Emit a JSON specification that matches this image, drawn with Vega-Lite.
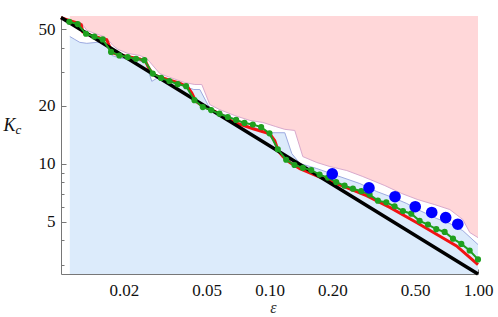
{
  "$schema": "https://vega.github.io/schema/vega-lite/v6.json",
  "width": 417,
  "height": 258,
  "autosize": {"type": "none"},
  "padding": {"left": 61, "top": 16, "right": 20, "bottom": 43},
  "background": "white",
  "config": {"view": {"stroke": null}, "font": "Times New Roman, Liberation Serif, serif", "axis": {"grid": false}},
  "datasets": {
    "pink": [
      {"e": 0.01102, "k": 55.1}, {"e": 0.01204, "k": 54.2}, {"e": 0.01258, "k": 53.6}, {"e": 0.0133, "k": 49.3},
      {"e": 0.01452, "k": 47.5}, {"e": 0.01604, "k": 45.8}, {"e": 0.01677, "k": 44.2}, {"e": 0.01772, "k": 41.2},
      {"e": 0.01873, "k": 39.3}, {"e": 0.02091, "k": 37.4}, {"e": 0.02388, "k": 36.5}, {"e": 0.0258, "k": 35.2},
      {"e": 0.02977, "k": 29.4}, {"e": 0.03325, "k": 28.1}, {"e": 0.03925, "k": 26.4}, {"e": 0.04384, "k": 25.8},
      {"e": 0.04735, "k": 25.8}, {"e": 0.05173, "k": 20.3}, {"e": 0.05775, "k": 19.1}, {"e": 0.06817, "k": 17.8},
      {"e": 0.08043, "k": 16.8}, {"e": 0.09288, "k": 16.4}, {"e": 0.1072, "k": 15.6}, {"e": 0.1184, "k": 15.1},
      {"e": 0.1322, "k": 14.9}, {"e": 0.1445, "k": 10.9}, {"e": 0.1686, "k": 10.16}, {"e": 0.1947, "k": 9.68},
      {"e": 0.2348, "k": 9.23}, {"e": 0.2802, "k": 8.59}, {"e": 0.3573, "k": 7.71}, {"e": 0.431, "k": 7.01},
      {"e": 0.5144, "k": 6.52}, {"e": 0.6205, "k": 6.14}, {"e": 0.7325, "k": 5.79}, {"e": 0.8455, "k": 5.14},
      {"e": 0.9135, "k": 4.4}, {"e": 1.0, "k": 4.14}
    ],
    "sky": [
      {"e": 0.01102, "k": 45.8}, {"e": 0.01165, "k": 44.2}, {"e": 0.01231, "k": 42.7}, {"e": 0.0133, "k": 42.2},
      {"e": 0.01485, "k": 42.7}, {"e": 0.01569, "k": 42.7}, {"e": 0.01658, "k": 41.2}, {"e": 0.01753, "k": 36.5},
      {"e": 0.01914, "k": 35.4}, {"e": 0.02091, "k": 35.0}, {"e": 0.02309, "k": 34.6}, {"e": 0.02551, "k": 33.4},
      {"e": 0.02726, "k": 26.8}, {"e": 0.02977, "k": 28.4}, {"e": 0.03325, "k": 27.1}, {"e": 0.03714, "k": 25.8},
      {"e": 0.04057, "k": 24.9}, {"e": 0.04335, "k": 24.3}, {"e": 0.04632, "k": 24.3}, {"e": 0.05059, "k": 20.3},
      {"e": 0.05347, "k": 18.9}, {"e": 0.06451, "k": 17.6}, {"e": 0.08043, "k": 15.6}, {"e": 0.09186, "k": 15.1},
      {"e": 0.1003, "k": 14.5}, {"e": 0.1184, "k": 14.5}, {"e": 0.1279, "k": 11.3}, {"e": 0.1398, "k": 10.04},
      {"e": 0.1686, "k": 9.45}, {"e": 0.2103, "k": 8.69}, {"e": 0.2711, "k": 7.9}, {"e": 0.327, "k": 7.18},
      {"e": 0.3903, "k": 6.68}, {"e": 0.4556, "k": 6.22}, {"e": 0.526, "k": 5.72}, {"e": 0.6346, "k": 5.2},
      {"e": 0.7325, "k": 4.9}, {"e": 0.8455, "k": 4.5}, {"e": 1.0, "k": 3.81}
    ],
    "black": [{"e": 0.01, "k": 57.5}, {"e": 1.0, "k": 2.68}],
    "red": [
      {"e": 0.01, "k": 57.3}, {"e": 0.01102, "k": 55.3}, {"e": 0.01217, "k": 53.6}, {"e": 0.01251, "k": 52.7},
      {"e": 0.01272, "k": 48.4}, {"e": 0.01374, "k": 46.7}, {"e": 0.01535, "k": 45.0}, {"e": 0.01658, "k": 44.0},
      {"e": 0.01714, "k": 40.4}, {"e": 0.01771, "k": 37.6}, {"e": 0.01914, "k": 36.7}, {"e": 0.02138, "k": 35.8},
      {"e": 0.02388, "k": 35.0}, {"e": 0.02551, "k": 33.8}, {"e": 0.02637, "k": 31.4}, {"e": 0.02756, "k": 29.2},
      {"e": 0.02977, "k": 28.2}, {"e": 0.03325, "k": 27.2}, {"e": 0.03714, "k": 26.2}, {"e": 0.04057, "k": 25.0},
      {"e": 0.0424, "k": 23.3}, {"e": 0.04432, "k": 21.1}, {"e": 0.04735, "k": 20.1}, {"e": 0.05173, "k": 19.2},
      {"e": 0.05775, "k": 18.2}, {"e": 0.06689, "k": 16.5}, {"e": 0.08342, "k": 15.2}, {"e": 0.1003, "k": 14.3},
      {"e": 0.106, "k": 13.2}, {"e": 0.11, "k": 11.7}, {"e": 0.1162, "k": 10.9}, {"e": 0.1252, "k": 10.16},
      {"e": 0.1398, "k": 9.45}, {"e": 0.1743, "k": 8.53}, {"e": 0.2012, "k": 8.04}, {"e": 0.2427, "k": 7.41},
      {"e": 0.2919, "k": 6.83}, {"e": 0.3776, "k": 5.94}, {"e": 0.507, "k": 4.96}, {"e": 0.6324, "k": 4.31},
      {"e": 0.7887, "k": 3.75}, {"e": 1.0, "k": 3.0}
    ],
    "green": [
      {"e": 0.01096, "k": 54.6}, {"e": 0.01202, "k": 53.1}, {"e": 0.01318, "k": 47.3}, {"e": 0.01445, "k": 45.8},
      {"e": 0.01585, "k": 44.2}, {"e": 0.01738, "k": 38.1}, {"e": 0.01905, "k": 36.5}, {"e": 0.02089, "k": 35.8},
      {"e": 0.02291, "k": 35.1}, {"e": 0.02512, "k": 34.5}, {"e": 0.02754, "k": 29.4}, {"e": 0.0302, "k": 27.9},
      {"e": 0.03311, "k": 26.9}, {"e": 0.03631, "k": 25.9}, {"e": 0.03981, "k": 25.3}, {"e": 0.04365, "k": 21.4},
      {"e": 0.04786, "k": 19.7}, {"e": 0.05248, "k": 19.0}, {"e": 0.05754, "k": 18.2}, {"e": 0.0631, "k": 17.5},
      {"e": 0.06918, "k": 16.9}, {"e": 0.07586, "k": 16.3}, {"e": 0.08318, "k": 16.0}, {"e": 0.0912, "k": 15.5},
      {"e": 0.1, "k": 14.4}, {"e": 0.1096, "k": 11.9}, {"e": 0.1202, "k": 10.5}, {"e": 0.1318, "k": 9.86},
      {"e": 0.1445, "k": 9.53}, {"e": 0.1585, "k": 9.28}, {"e": 0.1738, "k": 8.79}, {"e": 0.1905, "k": 8.48},
      {"e": 0.2089, "k": 8.04}, {"e": 0.2291, "k": 7.7}, {"e": 0.2512, "k": 7.43}, {"e": 0.2754, "k": 7.21},
      {"e": 0.302, "k": 6.92}, {"e": 0.3311, "k": 6.44}, {"e": 0.3631, "k": 6.31}, {"e": 0.3981, "k": 6.02},
      {"e": 0.4365, "k": 5.69}, {"e": 0.4786, "k": 5.51}, {"e": 0.5248, "k": 5.06}, {"e": 0.5754, "k": 4.84},
      {"e": 0.631, "k": 4.58}, {"e": 0.6918, "k": 4.43}, {"e": 0.7586, "k": 4.09}, {"e": 0.8318, "k": 3.84},
      {"e": 0.912, "k": 3.55}, {"e": 1.0, "k": 3.19}
    ],
    "dots": [
      {"e": 0.2, "k": 8.87}, {"e": 0.3, "k": 7.5}, {"e": 0.4, "k": 6.75}, {"e": 0.5, "k": 5.99},
      {"e": 0.6, "k": 5.59}, {"e": 0.7, "k": 5.26}, {"e": 0.8, "k": 4.86}
    ]
  },
  "resolve": {"axis": {"x": "independent", "y": "independent"}},
  "layer": [
    {
      "data": {"name": "pink"},
      "mark": {"type": "area", "color": "#FFD7D9", "opacity": 1},
      "encoding": {
        "x": {"field": "e", "type": "quantitative",
          "scale": {"type": "log", "domain": [0.01, 1], "nice": false},
          "axis": {"orient": "bottom", "values": [0.02, 0.05, 0.1, 0.2, 0.5, 1], "format": ".2f",
            "labelFont": "Times New Roman, Liberation Serif, serif", "labelFontSize": 17, "labelColor": "#111", "labelPadding": 13,
            "labelFlush": false, "labelOverlap": false,
            "tickSize": -5, "tickColor": "#777", "domainColor": "#777",
            "title": "ε", "titleFont": "Times New Roman, Liberation Serif, serif", "titleFontStyle": "italic", "titleFontWeight": "normal",
            "titleFontSize": 16, "titleColor": "#333", "titleX": 212, "titleY": 38, "titleAlign": "center", "titleBaseline": "alphabetic"}},
        "y": {"field": "k", "type": "quantitative",
          "scale": {"type": "log", "domain": [2.68, 58.5], "nice": false},
          "axis": {"orient": "left", "values": [5, 10, 20, 50], "format": "d",
            "labelFont": "Times New Roman, Liberation Serif, serif", "labelFontSize": 17, "labelColor": "#111", "labelPadding": 11,
            "labelFlush": false, "labelOverlap": false,
            "tickSize": -5, "tickColor": "#777", "domainColor": "#777",
            "title": "K", "titleFont": "Times New Roman, Liberation Serif, serif", "titleFontStyle": "italic", "titleFontWeight": "normal",
            "titleFontSize": 18, "titleColor": "#111", "titleAngle": 0, "titleX": -58, "titleY": 114,
            "titleAlign": "left", "titleBaseline": "alphabetic"}},
        "y2": {"datum": 58.5}
      }
    },
    {
      "data": {"name": "sky"},
      "mark": {"type": "area", "color": "#DCEBFB", "opacity": 1},
      "encoding": {
        "x": {"field": "e", "type": "quantitative",
          "axis": {"orient": "bottom", "values": [0.03, 0.04, 0.06, 0.07, 0.08, 0.09, 0.3, 0.4, 0.6, 0.7, 0.8, 0.9],
            "labels": false, "domain": false, "tickSize": -3, "tickColor": "#777", "title": null}},
        "y": {"field": "k", "type": "quantitative",
          "axis": {"orient": "left", "values": [3, 4, 6, 7, 8, 9, 30, 40],
            "labels": false, "domain": false, "tickSize": -3, "tickColor": "#777",
            "title": "c", "titleFont": "Times New Roman, Liberation Serif, serif", "titleFontStyle": "italic", "titleFontWeight": "normal",
            "titleFontSize": 13, "titleColor": "#111", "titleAngle": 0, "titleX": -46, "titleY": 117,
            "titleAlign": "left", "titleBaseline": "alphabetic"}},
        "y2": {"datum": 2.68}
      }
    },
    {
      "data": {"name": "pink"},
      "mark": {"type": "line", "color": "#D9A9CC", "strokeWidth": 1},
      "encoding": {
        "x": {"field": "e", "type": "quantitative", "axis": null},
        "y": {"field": "k", "type": "quantitative", "axis": null}
      }
    },
    {
      "data": {"name": "sky"},
      "mark": {"type": "line", "color": "#9DAAE0", "strokeWidth": 1},
      "encoding": {
        "x": {"field": "e", "type": "quantitative", "axis": null},
        "y": {"field": "k", "type": "quantitative", "axis": null}
      }
    },
    {
      "data": {"name": "red"},
      "mark": {"type": "line", "color": "#F21212", "strokeWidth": 3},
      "encoding": {
        "x": {"field": "e", "type": "quantitative", "axis": null},
        "y": {"field": "k", "type": "quantitative", "axis": null}
      }
    },
    {
      "data": {"name": "black"},
      "mark": {"type": "line", "color": "#000000", "strokeWidth": 3.5},
      "encoding": {
        "x": {"field": "e", "type": "quantitative", "axis": null},
        "y": {"field": "k", "type": "quantitative", "axis": null}
      }
    },
    {
      "data": {"name": "green"},
      "mark": {"type": "line", "color": "#1FA01F", "strokeWidth": 2,
        "point": {"filled": true, "size": 38, "color": "#1FA01F"}},
      "encoding": {
        "x": {"field": "e", "type": "quantitative", "axis": null},
        "y": {"field": "k", "type": "quantitative", "axis": null}
      }
    },
    {
      "data": {"name": "dots"},
      "mark": {"type": "point", "filled": true, "size": 135, "color": "#0000FF", "opacity": 1},
      "encoding": {
        "x": {"field": "e", "type": "quantitative", "axis": null},
        "y": {"field": "k", "type": "quantitative", "axis": null}
      }
    }
  ]
}
